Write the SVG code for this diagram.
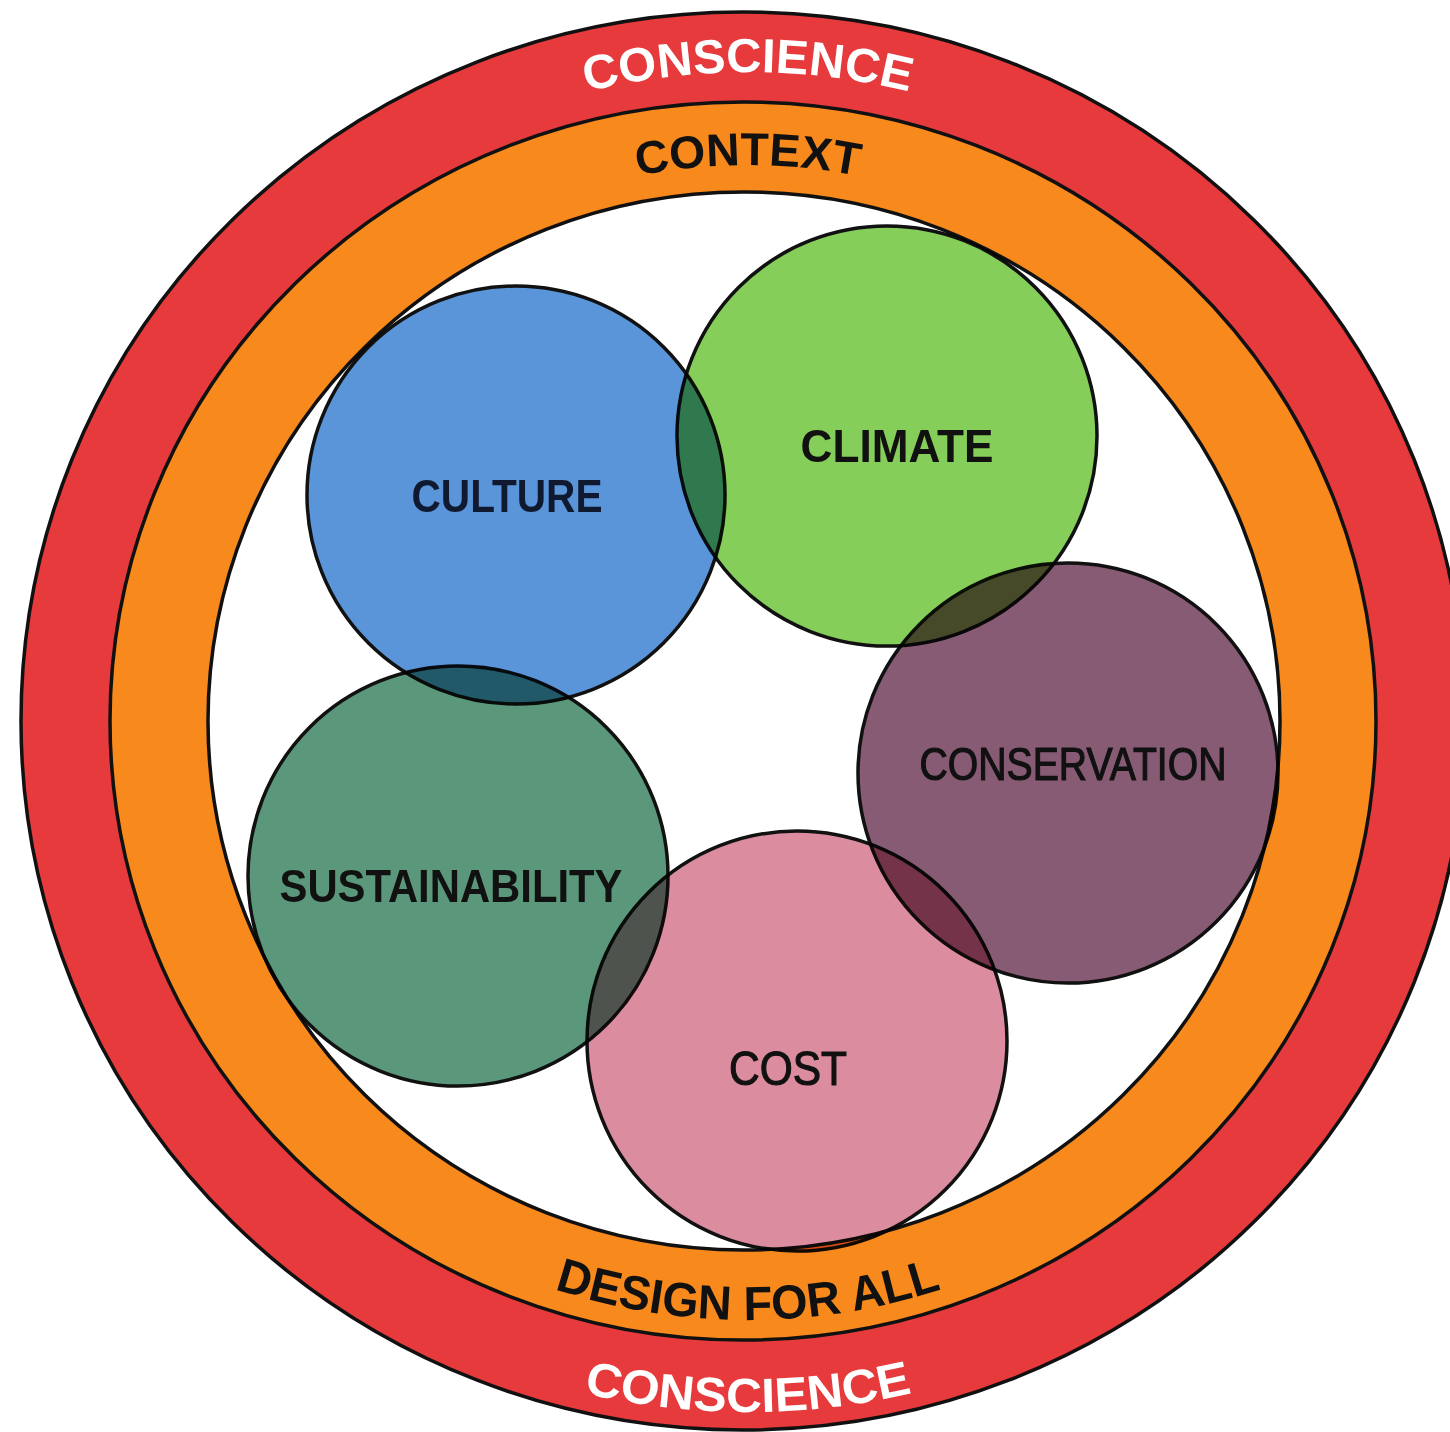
<svg xmlns="http://www.w3.org/2000/svg" xmlns:xlink="http://www.w3.org/1999/xlink" width="1450" height="1432" viewBox="0 0 1450 1432">
<style>
.ring{stroke:#111;stroke-width:3.5}
.node{stroke:#111;stroke-width:3.5;mix-blend-mode:multiply}
.lbl{font-family:"Liberation Sans",Arial,sans-serif;font-weight:bold;fill:#111;text-anchor:middle}
.lblm{font-family:"Liberation Sans",Arial,sans-serif;font-weight:normal;fill:#111;stroke:#111;stroke-width:1.2;text-anchor:middle}
.ringw{font-family:"Liberation Sans",Arial,sans-serif;font-weight:bold;fill:#fff;font-size:48px}
.ringb{font-family:"Liberation Sans",Arial,sans-serif;font-weight:bold;fill:#111;font-size:46px}
</style>
<defs>
<path id="pTop1" d="M 86 721 A 662 649 0 0 1 1410 721"/>
<path id="pTop2" d="M 181 721 A 567 556 0 0 1 1315 721"/>
<path id="pBot1" d="M 137 721 A 611 599 0 0 0 1359 721"/>
<path id="pBot2" d="M 43 721 A 705 691 0 0 0 1453 721"/>
</defs>
<rect x="0" y="0" width="1450" height="1432" fill="#fff"/>
<g id="ring-conscience">
<ellipse class="ring" cx="743" cy="721" rx="722" ry="709" fill="#e63a3c"/>
</g>
<g id="ring-context">
<ellipse class="ring" cx="743" cy="721" rx="633" ry="619" fill="#f8891c"/>
</g>
<g id="inner">
<ellipse class="ring" cx="744" cy="721" rx="536" ry="529" fill="#ffffff"/>
</g>
<g id="ring-labels">
<text class="ringw"><textPath xlink:href="#pTop1" href="#pTop1" startOffset="50%" text-anchor="middle" textLength="326" lengthAdjust="spacingAndGlyphs">CONSCIENCE</textPath></text>
<text class="ringb"><textPath xlink:href="#pTop2" href="#pTop2" startOffset="50%" text-anchor="middle" textLength="222" lengthAdjust="spacingAndGlyphs">CONTEXT</textPath></text>
<text class="ringb" style="font-size:48px"><textPath xlink:href="#pBot1" href="#pBot1" startOffset="50%" text-anchor="middle" textLength="394" lengthAdjust="spacingAndGlyphs">DESIGN FOR ALL</textPath></text>
<text class="ringw"><textPath xlink:href="#pBot2" href="#pBot2" startOffset="50%" text-anchor="middle" textLength="332" lengthAdjust="spacingAndGlyphs">CONSCIENCE</textPath></text>
</g>
<g id="connectors"></g>
<g id="node-culture">
<circle class="node" cx="516" cy="495" r="209" fill="#5b95d9"/>
</g>
<g id="node-climate">
<circle class="node" cx="887" cy="436" r="210" fill="#86ce5a"/>
</g>
<g id="node-conservation">
<circle class="node" cx="1068" cy="773" r="210" fill="#875b74"/>
</g>
<g id="node-sustainability">
<circle class="node" cx="458" cy="876" r="210" fill="#5b987b"/>
</g>
<g id="node-cost">
<circle class="node" cx="797" cy="1041" r="210" fill="#db8d9f"/>
</g>
<g id="node-labels">
<text class="lbl" x="507" y="512" font-size="47" textLength="191" lengthAdjust="spacingAndGlyphs" style="fill:#0f1a30">CULTURE</text>
<text class="lbl" x="897" y="462" font-size="47" textLength="193" lengthAdjust="spacingAndGlyphs">CLIMATE</text>
<text class="lbl" x="451" y="902" font-size="47" textLength="343" lengthAdjust="spacingAndGlyphs">SUSTAINABILITY</text>
<text class="lblm" x="1073" y="780" font-size="46" textLength="307" lengthAdjust="spacingAndGlyphs">CONSERVATION</text>
<text class="lblm" x="788" y="1085" font-size="48" textLength="118" lengthAdjust="spacingAndGlyphs">COST</text>
</g>
</svg>
